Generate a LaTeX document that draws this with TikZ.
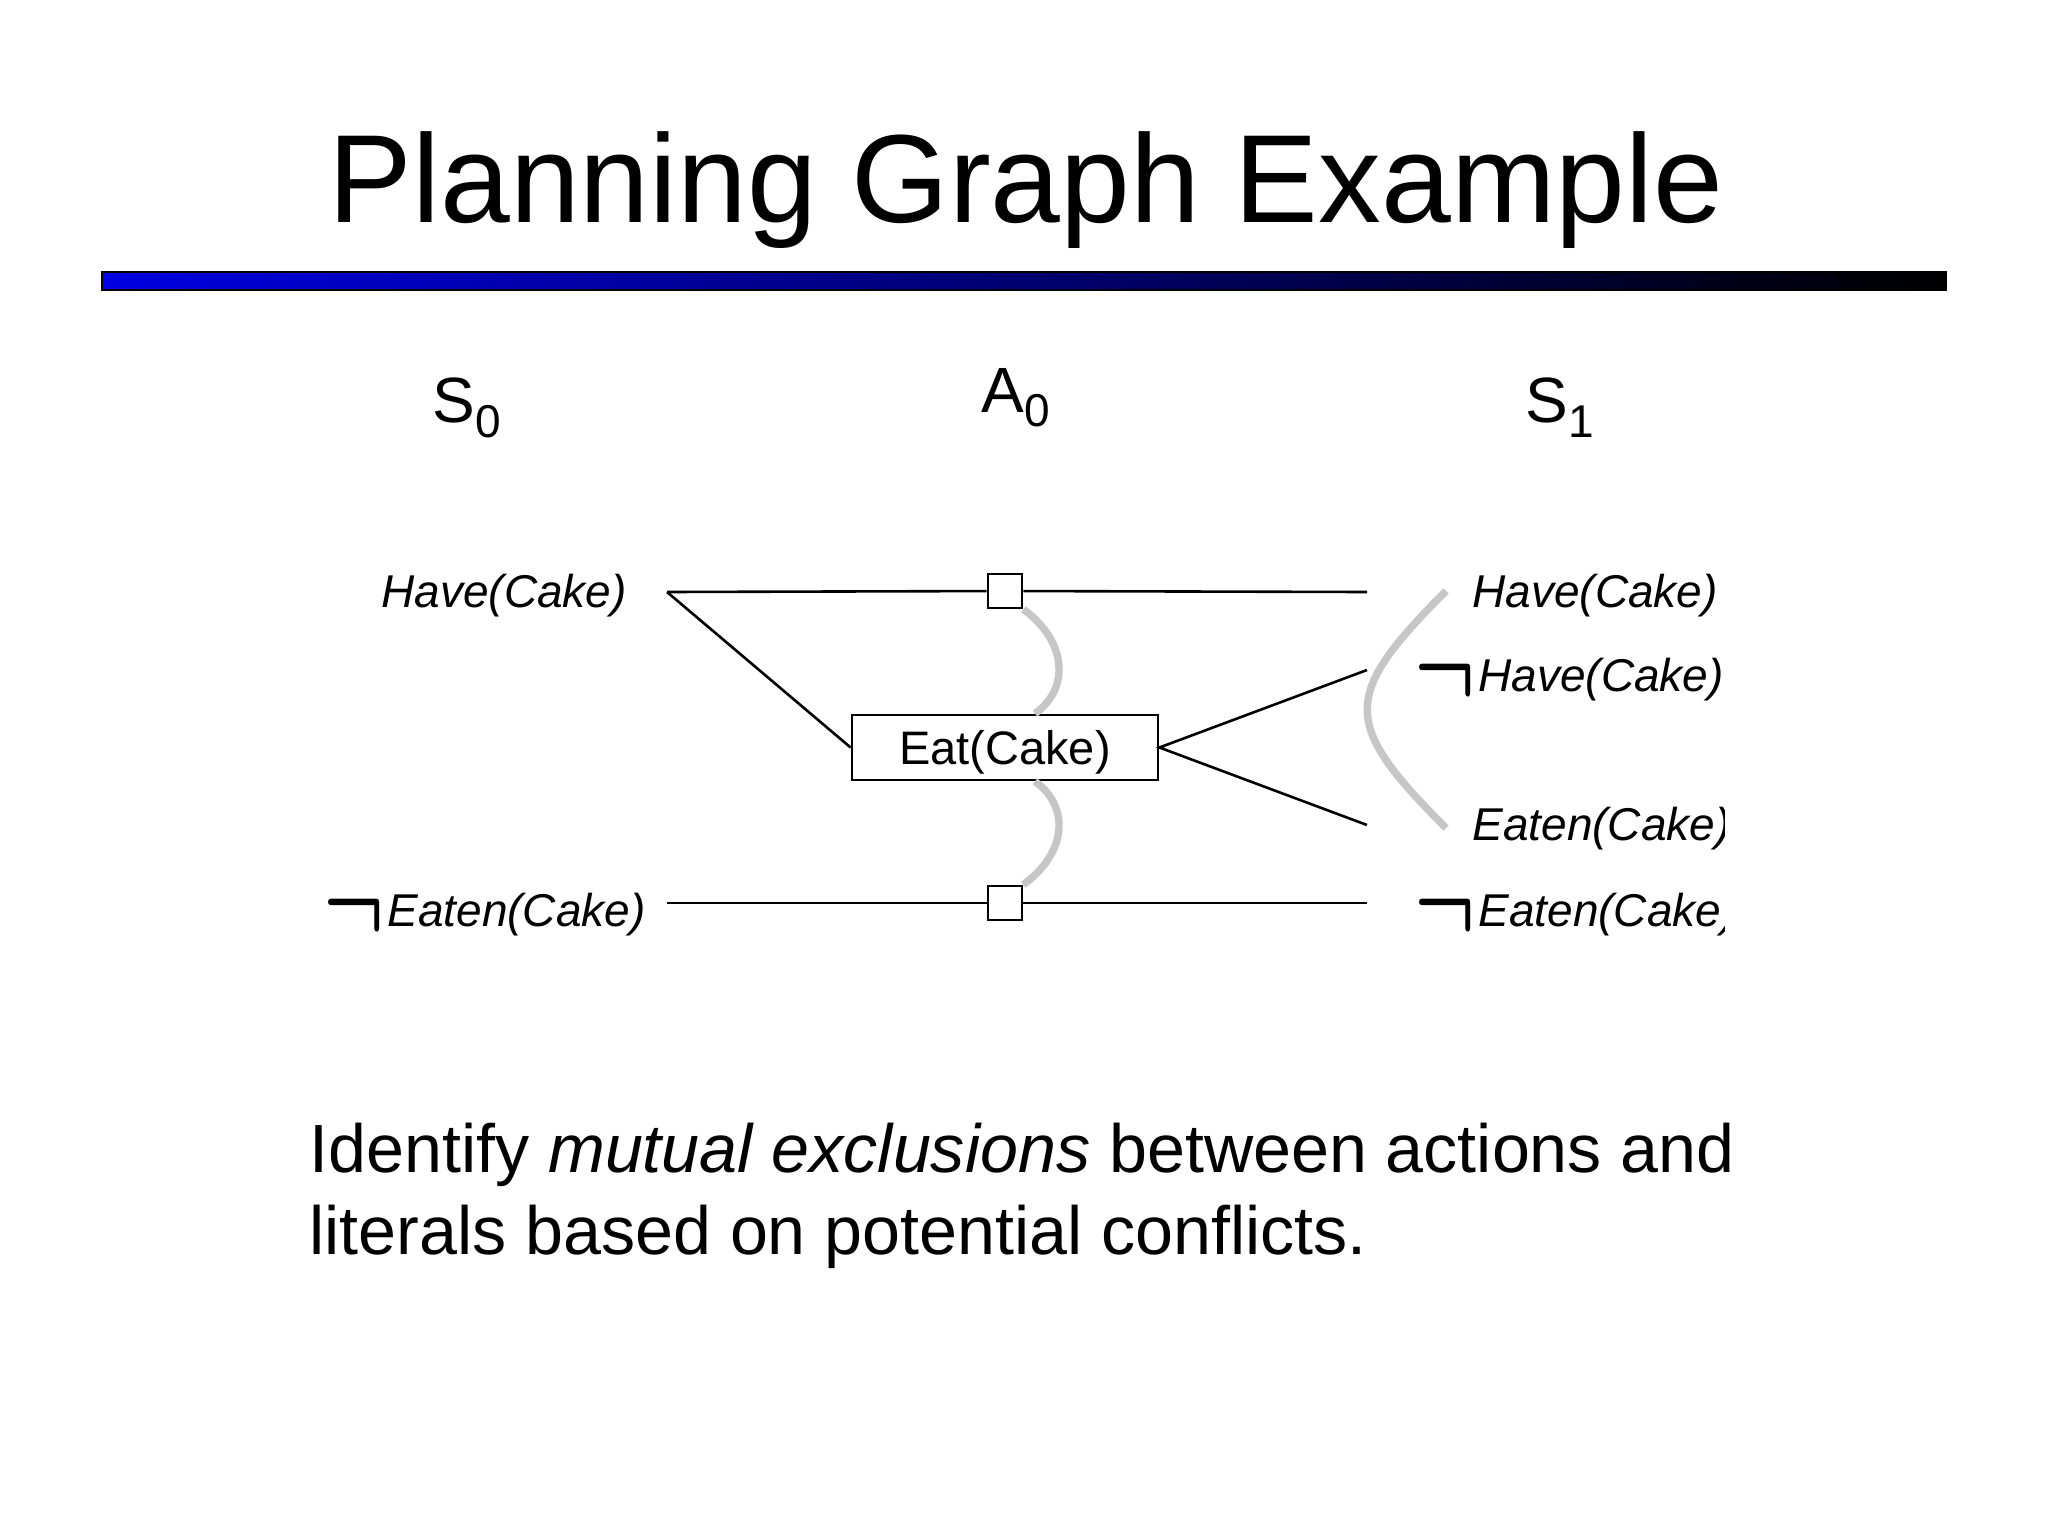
\documentclass[tikz,border=0pt]{standalone}
\usepackage{fontspec}
\setmainfont{Liberation Sans}
\usetikzlibrary{calc}
\definecolor{mutexgray}{RGB}{198,198,198}
\definecolor{barblue}{RGB}{0,0,225}
\newcommand{\negsym}{\makebox[32pt][l]{\upshape\raisebox{-6.3pt}{\scalebox{4.0}[5.3]{\normalsize\boldmath$\neg$}}}}
\begin{document}
\begin{tikzpicture}[x=0.5pt,y=-0.5pt,
  lbl/.style={inner sep=0pt, anchor=base west, font=\fontsize{23pt}{27pt}\selectfont\itshape},
  layer/.style={inner sep=0pt, anchor=base west, font=\fontsize{32pt}{38pt}\selectfont},
  conn/.style={line width=1.3pt, black},
  mutex/.style={line width=3.7pt, mutexgray},
  actbox/.style={draw, line width=1.4pt, fill=white, inner sep=0pt, minimum width=153pt, minimum height=32.5pt, text height=16.5pt, text depth=0pt, font=\fontsize{23.5pt}{28pt}\selectfont},
  noop/.style={draw, line width=1.3pt, fill=white, inner sep=0pt, minimum size=17pt}]

\useasboundingbox (0,0) rectangle (2048,1536);
\fill[white] (0,0) rectangle (2048,1536);

% title and bar
\node[inner sep=0pt, anchor=base, font=\fontsize{62.7pt}{75pt}\selectfont] (title) at (1026,222) {Planning Graph Example};
\shade[left color=barblue, right color=black] (102,272) rectangle (1946,290);
\draw[black, line width=0.6pt] (102,272) rectangle (1946,290);

% layer labels
\node[layer] (s0) at (432,422) {S\raisebox{-7.5pt}{\fontsize{23pt}{27pt}\selectfont 0}};
\node[layer] (a0) at (981,412) {A\raisebox{-7pt}{\fontsize{23pt}{27pt}\selectfont 0}};
\node[layer] (s1) at (1525,422) {S\raisebox{-7.5pt}{\fontsize{23pt}{27pt}\selectfont 1}};

% left literals
\node[lbl] (have0) at (381,607) {Have(Cake)};
\node[lbl] (neaten0) at (323,926) {\negsym Eaten(Cake)};

% right literals (clipped like the original)
\begin{scope}
\clip (1400,540) rectangle (1724,960);
\node[lbl] (have1) at (1472,607) {Have(Cake)};
\node[lbl] (nhave1) at (1414,691) {\negsym Have(Cake)};
\node[lbl] (eaten1) at (1472,840) {Eaten(Cake)};
\node[lbl] (neaten1) at (1414,926) {\negsym Eaten(Cake)};
\end{scope}

% connector end points
\coordinate (hL) at (667,592);
\coordinate (hR) at (1367,592);
\coordinate (eL) at (667,903);
\coordinate (eR) at (1367,903);
\coordinate (nhR) at (1367,670);
\coordinate (etR) at (1367,825);
\coordinate (m1) at (1446,591);
\coordinate (m2) at (1446,828);

% action nodes
\node[noop] (p1) at (1005,591) {};
\node[noop] (p2) at (1005,903) {};
\node[actbox] (eat) at (1005,747.5) {Eat(Cake)};

% connectors
\draw[conn] (hL) -- (p1) -- (hR);
\draw[conn] (eL) -- (p2) -- (eR);
\draw[conn] (hL) -- (eat.west);
\draw[conn] (nhR) -- (eat.east) -- (etR);

% mutex arcs
\draw[mutex] (p1.south east) .. controls +(44,32) and +(35,-25) .. ($(eat.north)+(30,0)$);
\draw[mutex] ($(eat.south)+(30,0)$) .. controls +(35,25) and +(44,-32) .. (p2.north east);
\draw[mutex] (m1) .. controls +(-105,105) and +(-105,-105) .. (m2);

% note (anchor is the baseline of the last line)
\node[inner sep=0pt, anchor=base west, align=left, font=\fontsize{34.1pt}{41pt}\selectfont] (note) at (309,1254) {Identify \textit{mutual exclusions} between actions and\\literals based on potential conflicts.};
\end{tikzpicture}
\end{document}
